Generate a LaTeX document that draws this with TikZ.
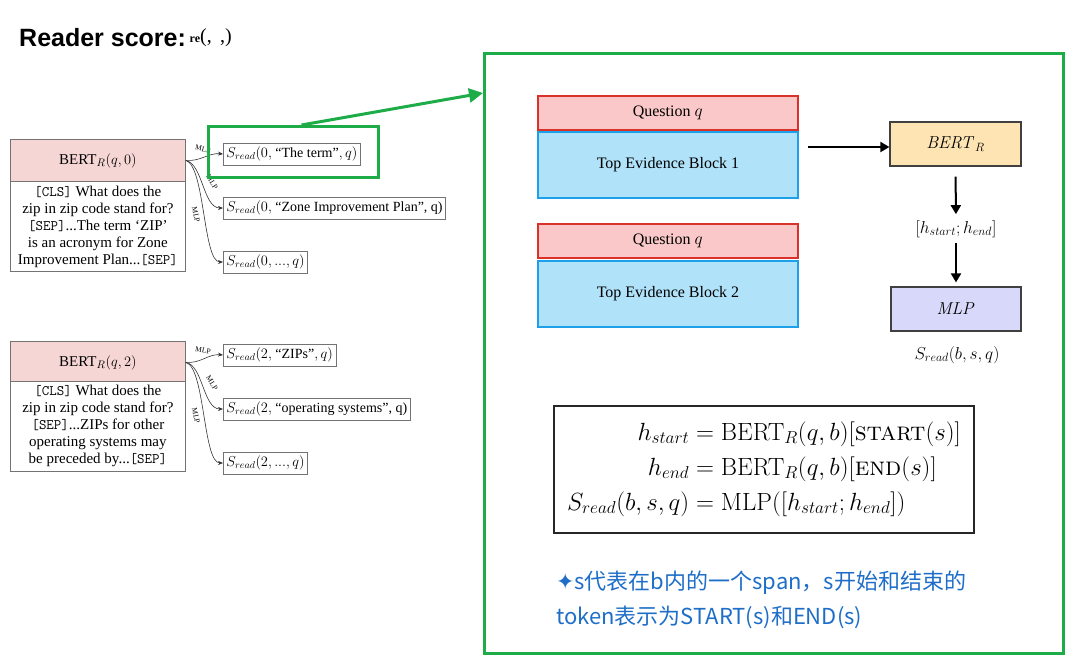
\documentclass[tikz,border=0pt]{standalone}
\usepackage{amsmath}
\usepackage[no-math]{fontspec}
\usetikzlibrary{arrows.meta}
\newfontfamily\tms{Liberation Serif}
\newfontfamily\ttl{Liberation Sans}
\newfontfamily\cjk{Noto Sans CJK SC}
\newfontfamily\djv{DejaVu Sans}
\newcommand{\tk}[1]{{\ttfamily\fontsize{14.5}{17}\selectfont #1}}
\definecolor{hdrpink}{RGB}{245,214,212}
\definecolor{boxgray}{RGB}{115,115,115}
\definecolor{selgreen}{RGB}{30,172,72}
\definecolor{qfill}{RGB}{250,200,200}
\definecolor{qdraw}{RGB}{218,50,40}
\definecolor{bfill}{RGB}{176,226,250}
\definecolor{bdraw}{RGB}{30,160,232}
\definecolor{bertfill}{RGB}{253,228,178}
\definecolor{mlpfill}{RGB}{216,217,250}
\definecolor{bluetxt}{RGB}{30,110,200}
\tikzset{
  hdr/.style={draw=boxgray, fill=hdrpink, line width=0.8pt, minimum width=175pt, minimum height=42pt, anchor=north west, inner sep=0pt, font=\fontsize{15}{17}\selectfont\tms},
  bodyb/.style={draw=boxgray, fill=white, line width=0.8pt, minimum width=175pt, minimum height=90pt, anchor=north west, inner sep=0pt, align=center, font=\fontsize{15}{17}\selectfont\tms},
  outb/.style={draw=boxgray, line width=0.8pt, anchor=west, inner sep=3pt, minimum height=22pt, font=\fontsize{14}{15}\selectfont\tms},
  mlpl/.style={font=\fontsize{7.5}{8}\selectfont\tms, inner sep=0pt},
  thinarr/.style={-{Stealth[length=5pt,width=4pt]}, line width=0.6pt, black!80},
  qbox/.style={draw=qdraw, fill=qfill, line width=1.5pt, minimum width=260pt, minimum height=34pt, anchor=north west, inner sep=0pt, font=\fontsize{16}{18}\selectfont\tms},
  blkbox/.style={draw=bdraw, fill=bfill, line width=2pt, minimum width=260pt, minimum height=66pt, anchor=north west, inner sep=0pt, font=\fontsize{16}{18}\selectfont\tms},
  arr/.style={-{Triangle[length=9pt,width=10pt]}, line width=2pt},
  green/.style={draw=selgreen, line width=3pt},
}
\begin{document}
\begin{tikzpicture}[x=1pt,y=-1pt]
\useasboundingbox (0,0) rectangle (1080,667);
% title
\node[anchor=west, inner sep=0pt, font=\fontsize{25}{30}\selectfont\ttl\bfseries] (title) at (19,38) {Reader score:};
\node[anchor=west, inner sep=0pt, font=\fontsize{20}{22}\selectfont\tms] (titlemath) at (title.east) {\,{\fontsize{12}{12}\selectfont\bfseries re}(,\, ,)};

% left panel 1
\node[hdr] (h0) at (10,139) {BERT$_R(q,0)$};
\node[bodyb] (b0) at (10,181) {\tk{[CLS]} What does the\\zip in zip code stand for?\\\tk{[SEP]}...The term ‘ZIP’\\is an acronym for Zone\\Improvement Plan...\tk{[SEP]}};
\node[outb] (o01) at (223,154) {$S_{read}(0,$ “The term”$,q)$};
\node[outb] (o02) at (223,208) {$S_{read}(0,$ “Zone Improvement Plan”, q)};
\node[outb] (o03) at (223,262) {$S_{read}(0,...,q)$};
\draw[thinarr] (h0.east) to[out=-5,in=175] (o01.west);
\draw[thinarr] (h0.east) .. controls (203,164) and (203,208) .. (o02.west);
\draw[thinarr] (h0.east) .. controls (205,166) and (203,262) .. (o03.west);
\node[mlpl, rotate=-12] (m01) at (203,149) {MLP};
\node[mlpl, rotate=-58] (m02) at (212,182) {MLP};
\node[mlpl, rotate=-78] (m03) at (196,215) {MLP};

% left panel 2
\node[hdr] (h2) at (10,341) {BERT$_R(q,2)$};
\node[bodyb] (b2) at (10,381) {\tk{[CLS]} What does the\\zip in zip code stand for?\\\tk{[SEP]}...ZIPs for other\\operating systems may\\be preceded by...\tk{[SEP]}};
\node[outb] (o21) at (223,355) {$S_{read}(2,$ “ZIPs”$,q)$};
\node[outb] (o22) at (223,409) {$S_{read}(2,$ “operating systems”, q)};
\node[outb] (o23) at (223,463) {$S_{read}(2,...,q)$};
\draw[thinarr] (h2.east) to[out=-5,in=175] (o21.west);
\draw[thinarr] (h2.east) .. controls (203,365) and (203,409) .. (o22.west);
\draw[thinarr] (h2.east) .. controls (205,367) and (203,463) .. (o23.west);
\node[mlpl, rotate=-10] (m21) at (203,350) {MLP};
\node[mlpl, rotate=-58] (m22) at (212,383) {MLP};
\node[mlpl, rotate=-78] (m23) at (196,416) {MLP};

% selection and big frame
\node[green, minimum width=170pt, minimum height=51pt, anchor=north west, inner sep=0pt] (sel) at (207,125) {};
\node[green, minimum width=579pt, minimum height=600pt, anchor=north west, inner sep=0pt] (frame) at (483,52) {};
\coordinate (gs) at ([xshift=8pt]sel.north);
\coordinate (ge) at (frame.west |- 0,93);
\draw[selgreen, line width=3pt, -{Triangle[length=14pt,width=14pt]}] (gs) -- (ge);

% question / evidence blocks
\node[qbox] (q1) at (537,95) {Question $q$};
\node[blkbox] (e1) at (537,131) {Top Evidence Block 1};
\node[qbox] (q2) at (537,223) {Question $q$};
\node[blkbox] (e2) at (537,260) {Top Evidence Block 2};

% BERT pipeline
\node[draw=black!75, fill=bertfill, line width=1.2pt, minimum width=131pt, minimum height=44pt, inner sep=0pt, font=\fontsize{17}{19}\selectfont] (bert) at (955.5,144) {$\mathit{BERT}_R$};
\node[inner sep=0pt, font=\fontsize{18}{19}\selectfont] (hcat) at (956,229) {$[h_{start};h_{end}]$};
\node[draw=black!75, fill=mlpfill, line width=1.2pt, minimum width=130pt, minimum height=44pt, inner sep=0pt, font=\fontsize{17}{19}\selectfont] (mlp) at (956,309) {$\mathit{MLP}$};
\node[inner sep=0pt, font=\fontsize{18}{19}\selectfont] (sread) at (957,355) {$S_{read}(b,s,q)$};
\coordinate (a1) at (808,147);
\draw[arr] (a1) -- (a1 -| bert.west);
\draw[arr, shorten <=10pt, shorten >=6pt] (bert.south) -- (hcat.north);
\draw[arr, shorten <=5pt, shorten >=4pt] (hcat.south) -- (mlp.north);

% formula box
\node[draw=black!85, line width=1.8pt, minimum width=420pt, minimum height=127pt, inner sep=0pt, font=\fontsize{26}{28}\selectfont] (formula) at (764,469.5) {\setlength{\jot}{7pt}$\begin{aligned}
h_{start} &= \mathrm{BERT}_R(q,b)[\textsc{start}(s)]\\
h_{end} &= \mathrm{BERT}_R(q,b)[\textsc{end}(s)]\\
S_{read}(b,s,q) &= \mathrm{MLP}([h_{start};h_{end}])
\end{aligned}$};

% note
\node[anchor=north west, inner sep=0pt, align=left, text=bluetxt, font=\fontsize{22}{35}\selectfont\cjk] (note) at (556,571) {{\djv\fontsize{22}{22}\selectfont ✦}s代表在b内的一个span，s开始和结束的\\token表示为START(s)和END(s)};
\end{tikzpicture}
\end{document}
